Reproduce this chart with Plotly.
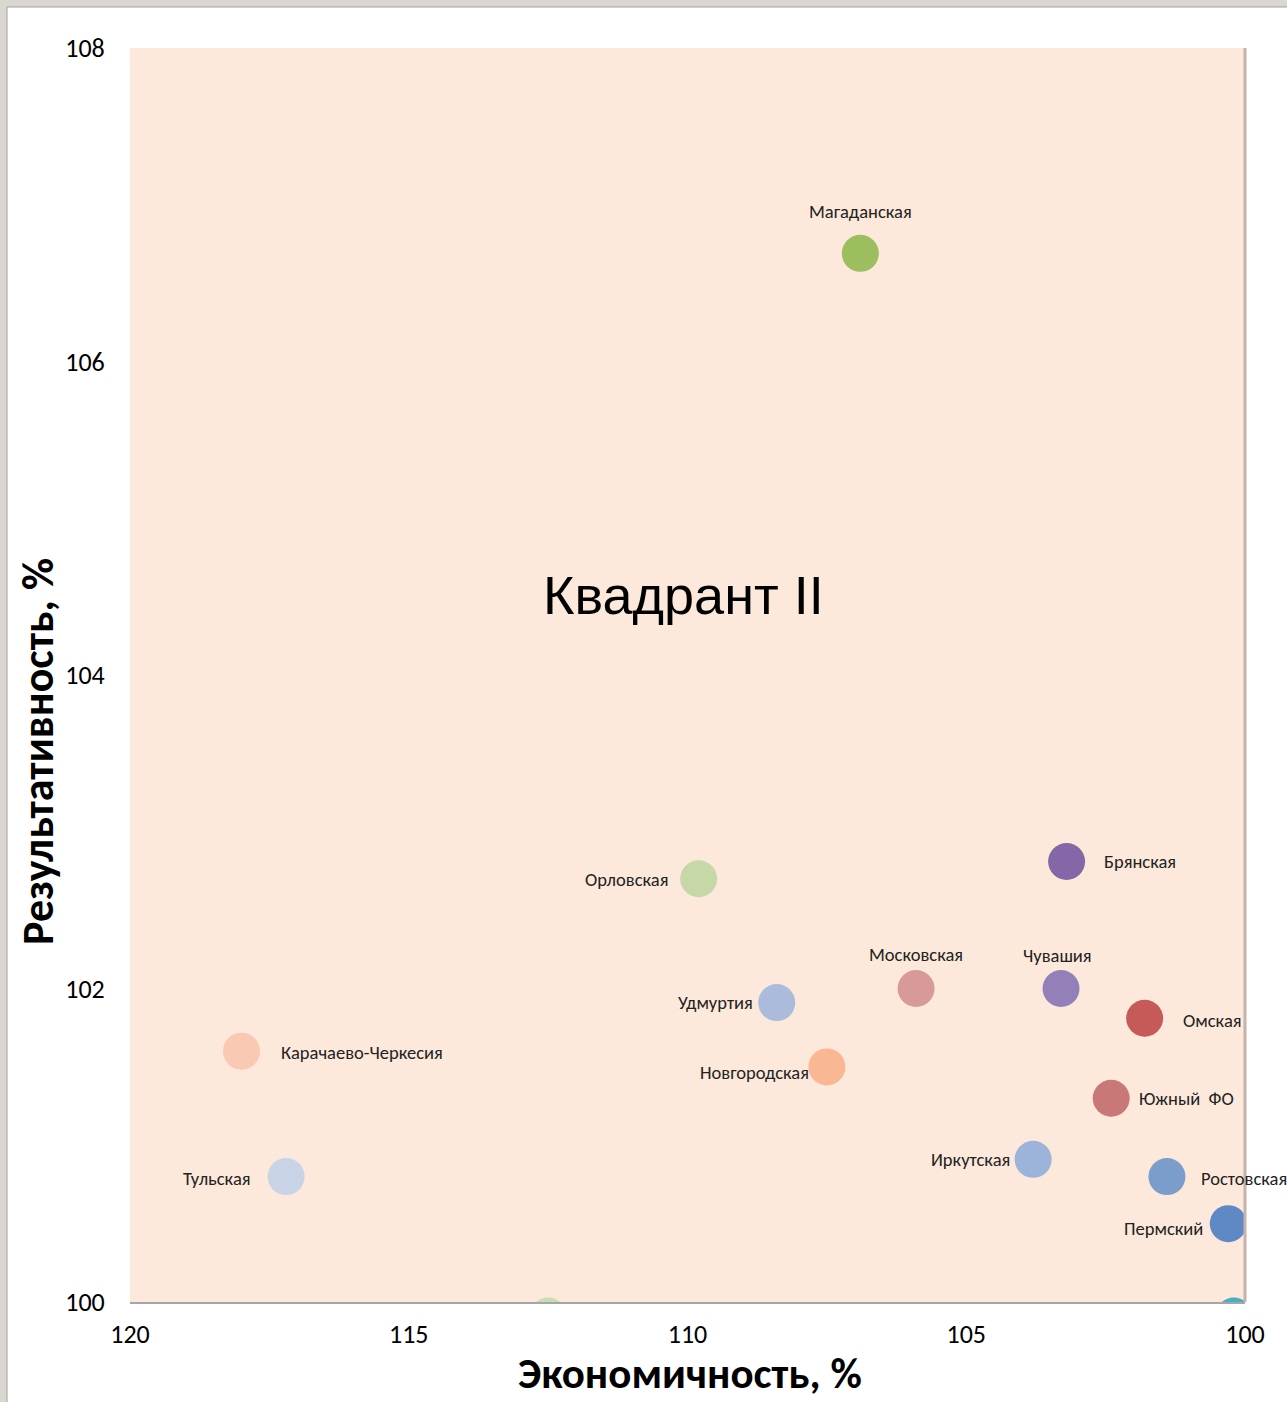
import plotly.graph_objects as go

# regions: economy (x), effectiveness (y)
regions = ['Магаданская', 'Орловская', 'Брянская', 'Московская', 'Чувашия',
           'Удмуртия', 'Омская', 'Карачаево-Черкесия', 'Новгородская',
           'Южный  ФО', 'Иркутская', 'Тульская', 'Ростовская', 'Пермский',
           '', '']
economy = [106.9, 109.8, 103.2, 105.9, 103.3, 108.4, 101.8, 118.0, 107.5,
           102.4, 103.8, 117.2, 101.4, 100.3, 112.5, 100.2]
effect = [106.69, 102.70, 102.81, 102.0, 102.0, 101.91, 101.81, 101.6, 101.5,
          101.3, 100.91, 100.80, 100.80, 100.50, 99.91, 99.91]
colors = ['#9DBE5F', '#C6D8A8', '#8467A6', '#D89A98', '#9480B8',
          '#AABBDC', '#C55A58', '#FAC9B3', '#F9B794', '#C97878',
          '#9CB4D9', '#C8D3E6', '#7A9DCB', '#5E89C4', '#C9DDB0', '#4BACC6']

x_ticks = [120, 115, 110, 105, 100]
y_ticks = [100, 102, 104, 106, 108]

# label placement: (xshift, yshift, anchor) per region
label_pos = {
    'Магаданская': (0, 42, 'center'),
    'Орловская': (-29, -1, 'right'),
    'Брянская': (35, 0, 'left'),
    'Московская': (0, 34, 'center'),
    'Чувашия': (-4, 33, 'center'),
    'Удмуртия': (-22, 0, 'right'),
    'Омская': (36, -2, 'left'),
    'Карачаево-Черкесия': (37, -1, 'left'),
    'Новгородская': (-16, -6, 'right'),
    'Южный  ФО': (26, 0, 'left'),
    'Иркутская': (-21, 0, 'right'),
    'Тульская': (-33, -2, 'right'),
    'Ростовская': (32, -2, 'left'),
    'Пермский': (-23, -5, 'right'),
}

FONT = 'Carlito, Lato, Noto Sans'

fig = go.Figure()
fig.add_trace(go.Scatter(
    x=economy, y=effect, mode='markers',
    marker=dict(size=37, color=colors, line=dict(width=0)),
    cliponaxis=True, hoverinfo='x+y',
))

W, H = 1287, 1402
L, R, T, B = 130, 42, 48, 100
pw, ph = W - L - R, H - T - B


def px(x, y):
    # pixel position on the page -> paper coords
    return (x - L) / pw, (H - B - y) / ph


annotations = []
for name, xv, yv in zip(regions, economy, effect):
    if not name:
        continue
    dx, dy, anchor = label_pos[name]
    annotations.append(dict(
        x=xv, y=yv, xref='x', yref='y', text=name, showarrow=False,
        xshift=dx, yshift=dy, xanchor=anchor, yanchor='middle',
        font=dict(family=FONT, size=18.5, color='#222222'),
    ))

qx, qy = px(683, 595)
annotations.append(dict(
    x=qx, y=qy, xref='paper', yref='paper', text='Квадрант II',
    xanchor='center', yanchor='middle',
    showarrow=False, font=dict(family='Liberation Sans, Arial', size=54, color='#000000'),
))
tx, ty = px(690, 1373)
annotations.append(dict(
    x=tx, y=ty, xref='paper', yref='paper', text='<b>Экономичность, %</b>',
    xanchor='center', yanchor='middle',
    showarrow=False, font=dict(family=FONT, size=43, color='#000000'),
))
tx, ty = px(38, 752)
annotations.append(dict(
    x=tx, y=ty, xref='paper', yref='paper', text='<b>Результативность, %</b>',
    xanchor='center', yanchor='middle',
    showarrow=False, textangle=-90,
    font=dict(family=FONT, size=44, color='#000000'),
))

fx0, fy0 = px(0, 0)
fx7, fy7 = px(7, 7)
fx1, fy1 = px(W, H)

fig.update_layout(
    width=W, height=H,
    margin=dict(l=L, r=R, t=T, b=B),
    paper_bgcolor='white',
    plot_bgcolor='#FCE9DB',
    showlegend=False,
    annotations=annotations,
    font=dict(family=FONT, color='#000000'),
    xaxis=dict(
        range=[120, 100], tickvals=x_ticks, showgrid=False, zeroline=False,
        showline=True, linecolor='#A6A6A6', linewidth=2,
        ticks='outside', ticklen=8, tickcolor='rgba(0,0,0,0)',
        tickfont=dict(size=26, color='#000000'),
    ),
    yaxis=dict(
        range=[100, 108], tickvals=y_ticks, showgrid=False, zeroline=False,
        showline=False,
        ticks='outside', ticklen=19, tickcolor='rgba(0,0,0,0)',
        tickfont=dict(size=26, color='#000000'),
    ),
    shapes=[
        # right border of the plot area
        dict(type='line', xref='paper', yref='paper', x0=1, x1=1, y0=0, y1=1,
             line=dict(color='#C4B3A8', width=3)),
        # gray window frame, top and left
        dict(type='rect', xref='paper', yref='paper',
             x0=fx0, x1=fx1, y0=fy0, y1=fy7,
             fillcolor='#DAD6D0', line=dict(width=0), layer='above'),
        dict(type='rect', xref='paper', yref='paper',
             x0=fx0, x1=fx7, y0=fy1, y1=fy0,
             fillcolor='#DAD6D0', line=dict(width=0), layer='above'),
        dict(type='line', xref='paper', yref='paper',
             x0=fx7, x1=fx1, y0=fy7, y1=fy7,
             line=dict(color='#A0A0A0', width=1)),
        dict(type='line', xref='paper', yref='paper',
             x0=fx7, x1=fx7, y0=fy1, y1=fy7,
             line=dict(color='#A0A0A0', width=1)),
    ],
)

fig.write_html('out.html', config={'displayModeBar': False},
               post_script="document.body.style.margin='0';")
